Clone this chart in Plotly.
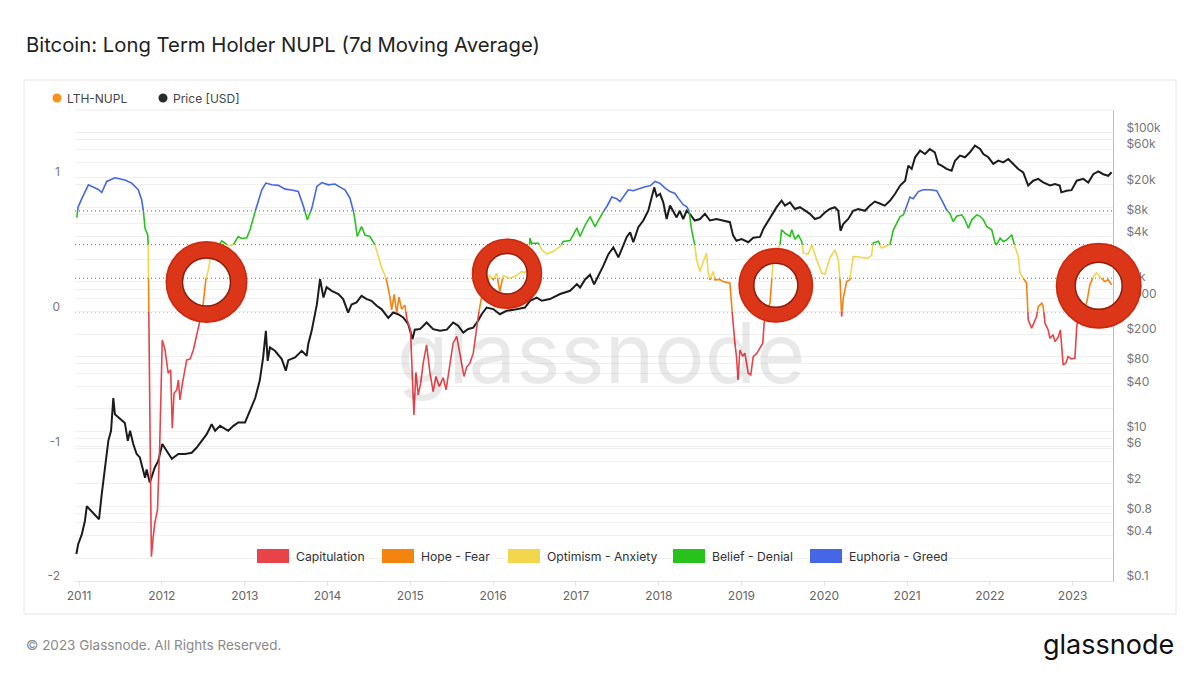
import numpy as np
import pandas as pd
import plotly.graph_objects as go

# ---------------- data ----------------
NUPL_DATES = [
    "2010-12-22", "2010-12-28", "2011-01-10", "2011-02-11", "2011-03-27", "2011-04-11", "2011-05-03",
    "2011-06-08", "2011-07-22", "2011-08-21", "2011-09-19", "2011-10-04", "2011-10-11", "2011-10-19",
    "2011-10-31", "2011-11-02", "2011-11-06", "2011-11-12", "2011-11-16", "2011-11-24", "2011-12-01",
    "2011-12-13", "2011-12-23", "2012-01-03", "2012-01-15", "2012-01-29", "2012-02-09", "2012-02-16",
    "2012-02-24", "2012-03-07", "2012-03-14", "2012-03-21", "2012-04-01", "2012-04-20", "2012-05-05",
    "2012-05-19", "2012-06-03", "2012-06-18", "2012-07-02", "2012-07-13", "2012-07-24", "2012-08-01",
    "2012-08-23", "2012-09-21", "2012-10-06", "2012-10-20", "2012-11-12", "2012-12-03", "2012-12-18",
    "2013-01-10", "2013-01-24", "2013-02-08", "2013-02-23", "2013-03-17", "2013-04-04", "2013-04-30",
    "2013-05-29", "2013-06-28", "2013-07-27", "2013-08-25", "2013-09-17", "2013-10-04", "2013-10-24",
    "2013-11-15", "2013-12-07", "2014-01-05", "2014-02-03", "2014-02-25", "2014-03-19", "2014-04-10",
    "2014-04-24", "2014-05-02", "2014-05-12", "2014-05-31", "2014-06-15", "2014-07-07", "2014-07-29",
    "2014-08-13", "2014-08-28", "2014-09-11", "2014-09-21", "2014-10-03", "2014-10-11", "2014-10-22",
    "2014-11-02", "2014-11-12", "2014-11-24", "2014-12-08", "2014-12-18", "2015-01-02", "2015-01-11",
    "2015-01-17", "2015-01-26", "2015-02-05", "2015-02-16", "2015-02-27", "2015-03-14", "2015-03-29",
    "2015-04-12", "2015-04-24", "2015-05-09", "2015-05-26", "2015-06-08", "2015-06-22", "2015-07-09",
    "2015-07-25", "2015-08-05", "2015-08-16", "2015-08-26", "2015-09-07", "2015-09-21", "2015-10-06",
    "2015-10-21", "2015-11-01", "2015-11-12", "2015-11-26", "2015-12-15", "2016-01-02", "2016-01-17",
    "2016-01-31", "2016-02-15", "2016-03-15", "2016-04-14", "2016-05-06", "2016-05-21", "2016-06-03",
    "2016-06-12", "2016-06-19", "2016-07-19", "2016-08-03", "2016-08-25", "2016-09-23", "2016-10-23",
    "2016-11-06", "2016-12-06", "2017-01-05", "2017-01-19", "2017-02-11", "2017-03-04", "2017-03-19",
    "2017-03-26", "2017-04-10", "2017-05-02", "2017-05-17", "2017-06-08", "2017-06-30", "2017-07-14",
    "2017-07-29", "2017-08-20", "2017-09-11", "2017-10-11", "2017-11-02", "2017-11-24", "2017-12-16",
    "2018-01-07", "2018-01-29", "2018-02-20", "2018-03-14", "2018-03-28", "2018-04-19", "2018-05-04",
    "2018-05-14", "2018-05-18", "2018-05-26", "2018-06-09", "2018-06-17", "2018-07-02", "2018-07-16",
    "2018-07-31", "2018-08-07", "2018-08-15", "2018-08-29", "2018-09-06", "2018-09-28", "2018-10-12",
    "2018-11-11", "2018-11-18", "2018-11-25", "2018-12-03", "2018-12-10", "2018-12-17", "2018-12-25",
    "2019-01-06", "2019-01-16", "2019-01-31", "2019-02-11", "2019-02-22", "2019-03-09", "2019-03-24",
    "2019-04-05", "2019-04-11", "2019-04-24", "2019-05-07", "2019-05-20", "2019-06-05", "2019-06-20",
    "2019-06-27", "2019-07-12", "2019-08-03", "2019-08-11", "2019-08-25", "2019-09-09", "2019-09-24",
    "2019-10-01", "2019-10-23", "2019-11-07", "2019-11-29", "2019-12-21", "2020-01-04", "2020-01-26",
    "2020-02-17", "2020-03-03", "2020-03-11", "2020-03-18", "2020-03-25", "2020-04-09", "2020-04-23",
    "2020-05-08", "2020-05-30", "2020-06-22", "2020-07-13", "2020-07-28", "2020-08-04", "2020-08-27",
    "2020-09-10", "2020-10-02", "2020-10-17", "2020-11-01", "2020-12-01", "2020-12-15", "2020-12-30",
    "2021-01-13", "2021-01-28", "2021-02-19", "2021-03-13", "2021-04-11", "2021-05-11", "2021-05-26",
    "2021-06-09", "2021-06-24", "2021-07-09", "2021-07-23", "2021-08-07", "2021-08-30", "2021-09-13",
    "2021-09-28", "2021-10-13", "2021-11-04", "2021-11-19", "2021-12-03", "2021-12-18", "2022-01-09",
    "2022-01-24", "2022-01-31", "2022-02-15", "2022-03-01", "2022-03-16", "2022-03-31", "2022-04-07",
    "2022-04-21", "2022-05-06", "2022-05-14", "2022-05-28", "2022-06-12", "2022-06-19", "2022-07-04",
    "2022-07-14", "2022-07-26", "2022-08-02", "2022-08-18", "2022-08-24", "2022-09-01", "2022-09-15",
    "2022-09-23", "2022-10-07", "2022-10-15", "2022-10-29", "2022-11-08", "2022-11-20", "2022-12-02",
    "2022-12-12", "2022-12-27", "2023-01-11", "2023-01-19", "2023-02-02", "2023-02-20", "2023-03-04",
    "2023-03-18", "2023-04-02", "2023-04-17", "2023-05-01", "2023-05-23", "2023-06-07", "2023-06-22",
]
NUPL_VALUES = [
    0.70, 0.78, 0.83, 0.944, 0.91, 0.887, 0.969,
    0.996, 0.98, 0.957, 0.907, 0.833, 0.758, 0.62,
    0.57, 0.50, -0.30, -1.50, -1.82, -1.67, -1.57,
    -1.47, -0.975, -0.208, -0.28, -0.456, -0.43, -0.865,
    -0.605, -0.58, -0.506, -0.654, -0.53, -0.357, -0.35,
    -0.283, -0.18, -0.06, 0.067, 0.238, 0.31, 0.387,
    0.45, 0.528, 0.51, 0.49, 0.50, 0.56, 0.545,
    0.55, 0.61, 0.708, 0.783, 0.907, 0.957, 0.945,
    0.94, 0.912, 0.905, 0.894, 0.783, 0.684, 0.771,
    0.932, 0.961, 0.944, 0.95, 0.927, 0.907, 0.845,
    0.758, 0.684, 0.56, 0.634, 0.57, 0.56, 0.498,
    0.411, 0.325, 0.275, 0.213, 0.114, 0.015, 0.13,
    -0.01, 0.11, 0.02, 0.05, -0.06, -0.134, -0.506,
    -0.766, -0.45, -0.617, -0.53, -0.381, -0.245, -0.456,
    -0.592, -0.48, -0.555, -0.49, -0.58, -0.406, -0.233,
    -0.183, -0.28, -0.381, -0.48, -0.41, -0.381, -0.307,
    -0.109, 0.015, 0.114, 0.09, 0.275, 0.24, 0.288,
    0.151, 0.27, 0.25, 0.27, 0.30, 0.29, 0.32,
    0.548, 0.51, 0.51, 0.461, 0.43, 0.45, 0.486,
    0.523, 0.53, 0.622, 0.56, 0.647, 0.708, 0.659,
    0.634, 0.68, 0.746, 0.783, 0.853, 0.84, 0.82,
    0.853, 0.907, 0.90, 0.92, 0.93, 0.937, 0.969,
    0.955, 0.92, 0.894, 0.88, 0.845, 0.796, 0.783,
    0.76, 0.708, 0.61, 0.498, 0.387, 0.30, 0.37,
    0.436, 0.30, 0.238, 0.30, 0.238, 0.24, 0.225,
    0.213, 0.065, -0.084, -0.233, -0.332, -0.506, -0.283,
    -0.33, -0.307, -0.456, -0.468, -0.332, -0.31, -0.27,
    -0.233, -0.084, 0.0, 0.067, 0.36, 0.45, 0.498,
    0.61, 0.585, 0.56, 0.61, 0.54, 0.57, 0.523,
    0.436, 0.43, 0.498, 0.387, 0.288, 0.28, 0.40,
    0.461, 0.387, 0.238, -0.035, 0.10, 0.225, 0.238,
    0.411, 0.41, 0.40, 0.40, 0.42, 0.511, 0.525,
    0.474, 0.49, 0.498, 0.61, 0.708, 0.72, 0.783,
    0.853, 0.84, 0.894, 0.907, 0.907, 0.90, 0.857,
    0.81, 0.758, 0.73, 0.671, 0.71, 0.721, 0.684,
    0.622, 0.684, 0.721, 0.71, 0.684, 0.634, 0.61,
    0.511, 0.50, 0.548, 0.523, 0.535, 0.56, 0.573,
    0.486, 0.411, 0.288, 0.25, 0.213, -0.06, -0.121,
    -0.08, -0.035, 0.039, 0.065, 0.04, -0.084, -0.134,
    -0.196, -0.17, -0.221, -0.19, -0.134, -0.394, -0.38,
    -0.332, -0.35, -0.344, -0.109, 0.05, 0.02, 0.07,
    0.20, 0.26, 0.29, 0.26, 0.225, 0.24, 0.20,
]

PRICE_DATES = [
    "2010-12-20", "2010-12-28", "2011-01-13", "2011-01-27", "2011-02-04", "2011-02-26", "2011-03-19",
    "2011-03-30", "2011-04-11", "2011-04-25", "2011-05-10", "2011-05-22", "2011-06-01", "2011-06-08",
    "2011-07-01", "2011-07-22", "2011-08-04", "2011-08-14", "2011-08-28", "2011-09-12", "2011-09-26",
    "2011-10-11", "2011-10-19", "2011-10-26", "2011-11-09", "2011-12-01", "2011-12-16", "2012-01-03",
    "2012-01-22", "2012-02-14", "2012-03-14", "2012-04-12", "2012-05-12", "2012-06-03", "2012-06-25",
    "2012-07-17", "2012-08-08", "2012-08-23", "2012-09-14", "2012-10-20", "2012-11-12", "2012-12-03",
    "2013-01-02", "2013-01-24", "2013-02-16", "2013-03-08", "2013-03-23", "2013-04-04", "2013-04-12",
    "2013-04-22", "2013-05-14", "2013-06-13", "2013-07-01", "2013-07-12", "2013-08-11", "2013-09-09",
    "2013-10-01", "2013-10-08", "2013-10-23", "2013-11-15", "2013-11-29", "2013-12-14", "2013-12-28",
    "2014-01-19", "2014-02-18", "2014-03-11", "2014-04-02", "2014-04-17", "2014-05-09", "2014-05-31",
    "2014-06-23", "2014-07-14", "2014-08-06", "2014-08-28", "2014-09-26", "2014-10-18", "2014-11-08",
    "2014-12-01", "2014-12-23", "2015-01-11", "2015-01-21", "2015-02-13", "2015-03-14", "2015-04-12",
    "2015-05-12", "2015-06-11", "2015-07-09", "2015-07-31", "2015-08-23", "2015-09-14", "2015-10-06",
    "2015-10-27", "2015-11-12", "2015-12-04", "2016-01-02", "2016-01-31", "2016-03-01", "2016-04-14",
    "2016-05-21", "2016-06-12", "2016-07-12", "2016-08-03", "2016-09-08", "2016-10-23", "2016-12-06",
    "2017-01-05", "2017-01-19", "2017-02-11", "2017-03-04", "2017-03-22", "2017-04-10", "2017-05-02",
    "2017-05-24", "2017-06-15", "2017-07-07", "2017-07-22", "2017-08-13", "2017-08-28", "2017-09-11",
    "2017-10-03", "2017-10-25", "2017-11-16", "2017-12-01", "2017-12-12", "2017-12-23", "2018-01-07",
    "2018-01-21", "2018-02-05", "2018-02-20", "2018-03-06", "2018-03-21", "2018-04-04", "2018-04-19",
    "2018-05-04", "2018-05-18", "2018-06-09", "2018-07-02", "2018-07-24", "2018-08-15", "2018-09-13",
    "2018-10-12", "2018-11-11", "2018-11-25", "2018-12-10", "2019-01-02", "2019-01-31", "2019-02-22",
    "2019-03-24", "2019-04-08", "2019-04-30", "2019-05-19", "2019-06-05", "2019-06-27", "2019-07-12",
    "2019-08-03", "2019-08-25", "2019-09-16", "2019-10-08", "2019-10-30", "2019-11-21", "2019-12-13",
    "2020-01-04", "2020-01-26", "2020-02-17", "2020-03-03", "2020-03-13", "2020-03-25", "2020-04-16",
    "2020-05-08", "2020-05-30", "2020-06-29", "2020-07-20", "2020-08-11", "2020-09-02", "2020-09-24",
    "2020-10-17", "2020-11-08", "2020-12-01", "2020-12-23", "2021-01-06", "2021-01-21", "2021-02-05",
    "2021-02-27", "2021-03-21", "2021-04-11", "2021-05-03", "2021-05-18", "2021-06-02", "2021-06-24",
    "2021-07-16", "2021-07-31", "2021-08-22", "2021-09-13", "2021-10-05", "2021-10-27", "2021-11-19",
    "2021-12-03", "2021-12-25", "2022-01-16", "2022-02-07", "2022-03-01", "2022-03-23", "2022-04-14",
    "2022-05-06", "2022-05-28", "2022-06-19", "2022-07-11", "2022-08-02", "2022-08-24", "2022-09-23",
    "2022-10-15", "2022-11-05", "2022-11-12", "2022-12-05", "2022-12-27", "2023-01-19", "2023-02-17",
    "2023-03-11", "2023-04-02", "2023-04-24", "2023-05-16", "2023-06-07", "2023-06-22",
]
PRICE_VALUES = [
    0.23, 0.31, 0.42, 0.64, 1.0, 0.86, 0.74,
    0.67, 1.45, 3.3, 7.5, 10.2, 28, 17,
    14.6, 13, 7.5, 10.2, 6.8, 5.0, 4.5,
    3.1, 2.4, 3.1, 2.07, 3.3, 4.0, 6.8,
    5.5, 4.3, 5.0, 5.0, 5.2, 6.1, 7.5,
    9.2, 12.5, 10.2, 11.9, 10.2, 11.9, 13.2,
    13.2, 19, 28, 48, 98, 222, 88,
    133, 120, 93, 65, 90, 98, 120,
    103, 148, 222, 500, 1090, 620, 850,
    760, 690, 590, 390, 500, 532, 650,
    590, 560, 480, 430, 330, 390, 370,
    335, 273, 172, 230, 234, 287, 234,
    222, 230, 287, 260, 210, 235, 245,
    303, 370, 455, 434, 370, 411, 430,
    455, 560, 617, 560, 590, 690, 762,
    935, 843, 1090, 1250, 930, 1200, 1650,
    2350, 2900, 2130, 2760, 4000, 4600, 3400,
    5400, 6640, 8980, 13500, 18400, 14000, 15100,
    11600, 6950, 10500, 8960, 7300, 8960, 6950,
    8960, 8150, 6640, 6950, 8150, 6640, 6950,
    6640, 6300, 4200, 3550, 3750, 3400, 3900,
    4000, 5150, 6640, 8500, 10000, 12200, 10500,
    11600, 9460, 10000, 8960, 8150, 6950, 7300,
    8500, 9460, 10000, 8960, 4840, 5950, 6950,
    8960, 9460, 8960, 10500, 11900, 11200, 10500,
    12200, 15000, 19500, 22600, 36000, 32500, 46500,
    57000, 51500, 60000, 54200, 37900, 36000, 32500,
    30800, 41900, 48900, 46500, 54200, 66500, 60100,
    51500, 46500, 37900, 41900, 39800, 44100, 37900,
    32400, 29300, 19500, 22600, 23900, 21500, 19500,
    20400, 19500, 15800, 16600, 16900, 22600, 23900,
    21400, 27600, 30200, 27600, 26300, 29300,
]

ZONE_NAMES = ["Capitulation", "Hope - Fear", "Optimism - Anxiety", "Belief - Denial", "Euphoria - Greed"]
ZONE_BOUNDS = [0.0, 0.25, 0.5, 0.75]

NUPL_TICKS = [-2, -1, 0, 1]
NUPL_TICK_TEXT = ["-2", "-1", "0", "1"]
PRICE_TICKS = [0.1, 0.2, 0.4, 0.6, 0.8, 1, 2, 4, 6, 8, 10, 20, 40, 60, 80, 100, 200, 400, 600, 800,
               1000, 2000, 4000, 6000, 8000, 10000, 20000, 40000, 60000, 80000, 100000]
PRICE_TICK_TEXT = ["$0.1", "", "$0.4", "", "$0.8", "", "$2", "", "$6", "", "$10", "", "$40", "", "$80", "",
                   "$200", "", "$600", "", "$1k", "", "$4k", "", "$8k", "", "$20k", "", "$60k", "", "$100k"]
YEAR_TICKS = [f"{y}-01-01" for y in range(2011, 2024)]
YEAR_TEXT = [str(y) for y in range(2011, 2024)]

# ---------------- styles / layout geometry ----------------
ZONE_COLORS = ["#E9434A", "#F5830F", "#F2D64C", "#27C21C", "#4566E6"]
FONT = "Inter"
PAGE_W, PAGE_H = 1200, 675
OFF = 8                      # default body margin of the html page
W, H = PAGE_W - OFF, PAGE_H - OFF
L, R, T, B = 75, 1113, 110, 581   # plot area in page pixels


def px(x):
    return (x - L) / (R - L)


def py(y):
    return (B - y) / (B - T)


# ---------------- split NUPL line into zone-coloured pieces ----------------
t = pd.to_datetime(NUPL_DATES).astype("int64").to_numpy().astype(float)
v = np.array(NUPL_VALUES, dtype=float)
pt, pv = [t[0]], [v[0]]
for i in range(len(v) - 1):
    t0, t1, v0, v1 = t[i], t[i + 1], v[i], v[i + 1]
    cross = [b for b in ZONE_BOUNDS if (v0 - b) * (v1 - b) < 0]
    cross.sort(reverse=(v1 < v0))
    for b in cross:
        f = (b - v0) / (v1 - v0)
        pt.append(t0 + f * (t1 - t0))
        pv.append(b)
    pt.append(t1)
    pv.append(v1)


def zone_of(val):
    return sum(val >= b for b in ZONE_BOUNDS)


seg_x = {k: [] for k in range(5)}
seg_y = {k: [] for k in range(5)}
prev_zone = None
for j in range(len(pv) - 1):
    z = zone_of((pv[j] + pv[j + 1]) / 2)
    xs, ys = seg_x[z], seg_y[z]
    if prev_zone != z:
        if xs:
            xs.append(None)
            ys.append(None)
        xs.append(pd.Timestamp(int(pt[j])))
        ys.append(pv[j])
    xs.append(pd.Timestamp(int(pt[j + 1])))
    ys.append(pv[j + 1])
    prev_zone = z

fig = go.Figure()
fig.add_trace(go.Scatter(
    x=pd.to_datetime(PRICE_DATES), y=PRICE_VALUES, yaxis="y", mode="lines", name="Price [USD]",
    line=dict(color="#1c1c1c", width=2), hoverinfo="skip", showlegend=False,
))
for k in range(5):
    fig.add_trace(go.Scatter(
        x=seg_x[k], y=seg_y[k], yaxis="y2", mode="lines", name=ZONE_NAMES[k],
        line=dict(color=ZONE_COLORS[k], width=1.6), connectgaps=False,
        hoverinfo="skip", showlegend=False,
    ))

shapes = []
annotations = []

# outer frame
shapes.append(dict(type="rect", xref="paper", yref="paper", x0=px(24), x1=px(1176), y0=py(614), y1=py(80),
                   line=dict(color="#e6e6e6", width=1), fillcolor="rgba(0,0,0,0)", layer="below"))
# legend separator / plot top line
shapes.append(dict(type="line", xref="paper", yref="paper", x0=0, x1=1, y0=1, y1=1,
                   line=dict(color="#ececec", width=1), layer="below"))
# dotted zone boundaries
for b in ZONE_BOUNDS:
    shapes.append(dict(type="line", xref="paper", yref="y2", x0=0, x1=1, y0=b, y1=b,
                       line=dict(color="#666666", width=1, dash="1px,3px"), layer="below"))

# title & footer
annotations.append(dict(text="Bitcoin: Long Term Holder NUPL (7d Moving Average)", xref="paper", yref="paper",
                        x=px(24), y=py(44), xanchor="left", yanchor="middle", showarrow=False,
                        font=dict(family=FONT, size=20.3, color="#222")))
annotations.append(dict(text="© 2023 Glassnode. All Rights Reserved.", xref="paper", yref="paper",
                        x=px(24), y=py(645), xanchor="left", yanchor="middle", showarrow=False,
                        font=dict(family=FONT, size=13.5, color="#8a8a8a")))
annotations.append(dict(text="glassnode", xref="paper", yref="paper",
                        x=px(1176), y=py(644), xanchor="right", yanchor="middle", showarrow=False,
                        font=dict(family=FONT, size=27, color="#111")))
# watermark
annotations.append(dict(text="glassnode", xref="paper", yref="paper",
                        x=px(601), y=py(352), xanchor="center", yanchor="middle", showarrow=False,
                        font=dict(family=FONT, size=84, color="rgba(0,0,0,0.085)")))

# top legend
for cx, label, col in [(57, "LTH-NUPL", "#F7931A"), (163, "Price [USD]", "#2a2a2a")]:
    shapes.append(dict(type="circle", xref="paper", yref="paper", xsizemode="pixel", ysizemode="pixel",
                       xanchor=px(cx), yanchor=py(98), x0=-4.5, x1=4.5, y0=-4.5, y1=4.5,
                       fillcolor=col, line=dict(width=0), layer="above"))
    annotations.append(dict(text=label, xref="paper", yref="paper", x=px(cx + 8), y=py(98),
                            xanchor="left", yanchor="middle", showarrow=False,
                            font=dict(family=FONT, size=12, color="#444")))

# bottom zone legend
for k, sx in enumerate([257, 382, 508, 673, 810]):
    shapes.append(dict(type="rect", xref="paper", yref="paper", x0=px(sx), x1=px(sx + 32),
                       y0=py(563), y1=py(549), fillcolor=ZONE_COLORS[k], line=dict(width=0), layer="above"))
    annotations.append(dict(text=ZONE_NAMES[k], xref="paper", yref="paper", x=px(sx + 37), y=py(556),
                            xanchor="left", yanchor="middle", showarrow=False,
                            font=dict(family=FONT, size=12.2, color="#333")))

# red highlight rings (overlay drawn on the original image)
RING_CENTERS = [(206.5, 282.0), (507.0, 273.7), (775.8, 285.3), (1098.7, 285.8)]
RING_OUTER = [41.0, 35.3, 37.5, 43.0]
RING_INNER = [23.5, 19.7, 21.5, 23.0]
for (cx, cy), ro, ri in zip(RING_CENTERS, RING_OUTER, RING_INNER):
    m = (ro + ri) / 2
    common = dict(type="circle", xref="paper", yref="paper", xsizemode="pixel", ysizemode="pixel",
                  xanchor=px(cx), yanchor=py(cy), layer="above")
    shapes.append(dict(**common, x0=-m, x1=m, y0=-m, y1=m,
                       line=dict(color="#DC3619", width=ro - ri)))
    shapes.append(dict(**common, x0=-ri - 0.5, x1=ri + 0.5, y0=-ri - 0.5, y1=ri + 0.5,
                       line=dict(color="rgba(110,15,5,0.7)", width=1.5)))
    shapes.append(dict(**common, x0=-ro + 1, x1=ro - 1, y0=-ro + 1, y1=ro - 1,
                       line=dict(color="rgba(190,30,10,0.55)", width=1.2)))

fig.update_layout(
    width=W, height=H,
    margin=dict(l=L - OFF, r=PAGE_W - R, t=T - OFF, b=PAGE_H - B),
    paper_bgcolor="white", plot_bgcolor="white",
    font=dict(family=FONT, color="#777"),
    showlegend=False,
    xaxis=dict(
        type="date", range=["2010-12-14", "2023-06-28"],
        tickvals=YEAR_TICKS, ticktext=YEAR_TEXT,
        showgrid=False, zeroline=False,
        showline=True, linecolor="#e3e3e3", linewidth=1,
        ticks="outside", ticklen=4, tickcolor="#e3e3e3",
        tickfont=dict(family=FONT, size=12, color="#666"),
    ),
    yaxis=dict(
        type="log", range=[-1, 5.3], side="right", anchor="x",
        tickvals=PRICE_TICKS, ticktext=PRICE_TICK_TEXT,
        showgrid=True, gridcolor="#f0f0f0", gridwidth=1, zeroline=False,
        showline=True, linecolor="#bdbdbd", linewidth=1,
        ticks="", ticklabelstandoff=10, ticklabelshift=-5,
        tickfont=dict(family=FONT, size=12, color="#777"),
    ),
    yaxis2=dict(
        range=[-2, 1.5], overlaying="y", side="left", anchor="x",
        tickvals=NUPL_TICKS, ticktext=NUPL_TICK_TEXT,
        showgrid=True, gridcolor="#f0f0f0", gridwidth=1, zeroline=False,
        showline=False, ticks="", ticklabelstandoff=14, ticklabelshift=-5,
        tickfont=dict(family=FONT, size=12, color="#777"),
    ),
    shapes=shapes,
    annotations=annotations,
)

fig.write_html("out.html")
